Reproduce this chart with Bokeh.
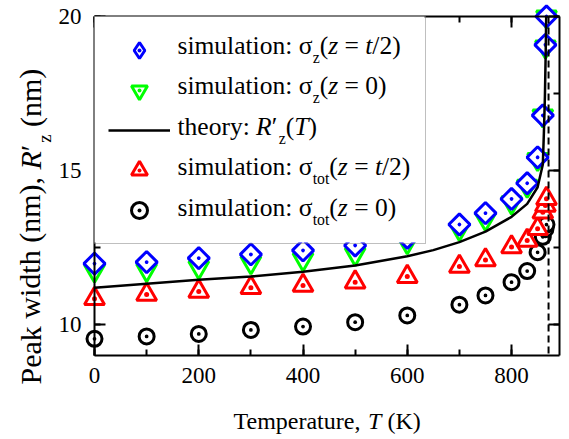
import math
from bokeh.plotting import figure
from bokeh.models import (Range1d, LinearAxis, SingleIntervalTicker, Span,
                          Legend, LegendItem, ColumnDataSource, PrintfTickFormatter)
from bokeh.core.properties import value
from bokeh.embed import file_html
from bokeh.resources import INLINE

# ---------------- data ----------------
T_sim = [0, 100, 200, 300, 400, 500, 600, 700, 750, 800, 830, 850, 860, 865, 867]
sigma_z_half = [11.98, 12.03, 12.16, 12.28, 12.41, 12.57, 12.82, 13.25, 13.62, 14.08,
                14.59, 15.43, 16.79, 19.08, 20.00]
sigma_z_zero = [11.75, 11.77, 11.86, 12.02, 12.12, 12.29, 12.67, 13.10, 13.42, 13.96,
                14.50, 15.37, 16.78, 19.02, 19.99]
sigma_tot_half = [10.84, 10.98, 11.08, 11.20, 11.27, 11.38, 11.56, 11.89, 12.10, 12.52,
                  12.73, 13.11, 13.65, 13.87, 14.09]
sigma_tot_zero = [9.54, 9.62, 9.70, 9.83, 9.94, 10.08, 10.30, 10.65, 10.95, 11.38,
                  11.74, 12.35, 12.85, 13.10, 13.25]
T_theory = [0, 100, 200, 300, 400, 500, 600, 650, 700, 750, 800, 830, 850, 860, 862,
            864, 865.5, 866.5]
R_theory = [11.20, 11.33, 11.46, 11.56, 11.72, 11.92, 12.22, 12.42, 12.68, 13.02, 13.50,
            13.92, 14.46, 15.20, 16.20, 17.40, 18.80, 20.00]
T_c = 871
x_tick_interval = 200
y_tick_interval = 5

# ---------------- layout ----------------
W, H = 569, 439
FL, FR, FT, FB = 94, 559, 16, 355
X0, X1 = 0, 892
Y0, Y1 = 9, 20
FONT = "Liberation Serif"
BLUE, GREEN, RED = "#0000ff", "#00ff00", "#ff0000"
LEG_RIGHT, LEG_BOTTOM = 424, 242   # legend box edges (px)


def px2x(px):
    return X0 + (px - FL) * (X1 - X0) / (FR - FL)


def py2y(py):
    return Y0 + (FB - py) * (Y1 - Y0) / (FB - FT)


p = figure(width=W, height=H, x_range=Range1d(X0, X1), y_range=Range1d(Y0, Y1),
           output_backend="svg", toolbar_location=None,
           x_axis_type=None, y_axis_type=None,
           min_border_left=FL, min_border_right=W - FR,
           min_border_top=FT, min_border_bottom=H - FB)
p.outline_line_color = None
p.background_fill_color = "white"
p.border_fill_color = "white"


def make_axis(interval, labels):
    ax = LinearAxis(ticker=SingleIntervalTicker(interval=interval, num_minor_ticks=2),
                    axis_line_width=2, axis_line_color="black",
                    major_tick_line_width=2, minor_tick_line_width=2,
                    major_tick_in=11, major_tick_out=0,
                    minor_tick_in=6, minor_tick_out=0,
                    major_label_text_font=FONT, major_label_text_color="black",
                    major_label_text_font_size="23px")
    if not labels:
        ax.formatter = PrintfTickFormatter(format="")
        ax.major_label_text_color = None
        ax.major_label_standoff = 0
    return ax


xb = make_axis(x_tick_interval, True)
xb.major_label_standoff = 12
yl = make_axis(y_tick_interval, True)
yl.major_label_standoff = 13
p.add_layout(xb, "below")
p.add_layout(yl, "left")
p.add_layout(make_axis(x_tick_interval, False), "above")
p.add_layout(make_axis(y_tick_interval, False), "right")

src = ColumnDataSource(dict(T=T_sim, bz=sigma_z_half, gz=sigma_z_zero,
                            rt=sigma_tot_half, kt=sigma_tot_zero))
mk = dict(line_width=3, fill_color="white", level="guide")

r_black = p.scatter("T", "kt", source=src, marker="circle_dot", size=15,
                    line_color="black", **mk)
r_red = p.scatter("T", "rt", source=src, marker="triangle_dot", size=20,
                  line_color=RED, **mk)
r_green = p.scatter("T", "gz", source=src, marker="inverted_triangle", size=20,
                    line_color=GREEN, **mk)
r_green_dot = p.scatter("T", "gz", source=src, marker="dot", size=18,
                        line_color=GREEN, fill_color=GREEN, line_width=1, level="guide")
r_blue = p.scatter("T", "bz", source=src, marker="square_dot", size=15, angle=math.pi / 4,
                   line_color=BLUE, **mk)
r_theory = p.line(T_theory, R_theory, line_color="black", line_width=2.5, level="guide")
p.add_layout(Span(location=T_c, dimension="height", line_color="black", line_width=2,
                  line_dash="7 4", level="guide"))

# white backdrop of the legend box (covers data points behind the legend)
p.quad(left=[px2x(FL)], right=[px2x(LEG_RIGHT)], top=[py2y(FT)], bottom=[py2y(LEG_BOTTOM)],
       fill_color="white", line_color=None, level="overlay")

# legend key for the diamonds (Bokeh draws legend keys unrotated); no visible point
key_blue = p.scatter(x=[math.nan], y=[math.nan], marker="diamond_dot", size=10,
                     line_color=BLUE, line_width=3, fill_color="white")

legend = Legend(items=[LegendItem(label=" ", renderers=[key_blue]),
                       LegendItem(label=" ", renderers=[r_green, r_green_dot]),
                       LegendItem(label=" ", renderers=[r_theory]),
                       LegendItem(label=" ", renderers=[r_red]),
                       LegendItem(label=" ", renderers=[r_black])],
                location="top_left", margin=0, padding=13, spacing=0,
                glyph_width=62, glyph_height=40, label_width=233, label_height=40,
                label_standoff=9, border_line_color="#808080", border_line_width=1,
                background_fill_alpha=0.0, label_text_color=None)
p.add_layout(legend)

# ---------------- rich text (text glyph) ----------------
W_REG = {' ': 250, '(': 333, ')': 333, ',': 250, '/': 278, ':': 278, '=': 564,
         '0': 500, '2': 500, 'K': 722, 'P': 556, 'R': 667, 'T': 611,
         'a': 444, 'd': 500, 'e': 444, 'h': 500, 'i': 278, 'k': 500, 'l': 278,
         'm': 778, 'n': 500, 'o': 500, 'p': 500, 'r': 333, 's': 389, 't': 278,
         'u': 500, 'w': 722, 'y': 500, 'z': 444, 'σ': 550, '′': 280}
W_IT = {'R': 611, 'T': 556, 't': 278, 'z': 389, 'σ': 550}
BASE_FIX = 0.45   # baseline correction (in em) for Bokeh's text placement

txt = dict(x=[], y=[], text=[], size=[], style=[], angle=[])


def twidth(s, italic, size):
    tab = W_IT if italic else W_REG
    return sum(tab.get(c, W_REG.get(c, 500)) for c in s) / 1000.0 * size


def rich(pieces, x_px, y_px, size, rotated=False):
    adv = 0.0
    for text, kind in pieces:
        sub = kind == "s"
        italic = kind == "i"
        fs = size * 0.62 if sub else size
        shift = size * 0.30 if sub else 0.0
        shift -= BASE_FIX * fs
        stripped = text.strip(" ")
        lead = twidth(text[:len(text) - len(text.lstrip(" "))], False, fs)
        a = adv + lead
        if rotated:
            lx, ly = x_px + shift, y_px - a
        else:
            lx, ly = x_px + a, y_px + shift
        if stripped:
            txt["x"].append(px2x(lx))
            txt["y"].append(py2y(ly))
            txt["text"].append(stripped)
            txt["size"].append(f"{fs:.1f}px")
            txt["style"].append("italic" if italic else "normal")
            txt["angle"].append(math.pi / 2 if rotated else 0.0)
        adv += twidth(text, italic, fs)


LEG_SIZE = 25.5
legend_texts = [
    [("simulation: ", "r"), ("σ", "r"), ("z", "s"), ("(", "r"), ("z", "i"),
     (" = ", "r"), ("t", "i"), ("/2)", "r")],
    [("simulation: ", "r"), ("σ", "r"), ("z", "s"), ("(", "r"), ("z", "i"),
     (" = 0)", "r")],
    [("theory: ", "r"), ("R", "i"), ("′", "r"), ("z", "s"), ("(", "r"), ("T", "i"),
     (")", "r")],
    [("simulation: ", "r"), ("σ", "r"), ("tot", "s"), ("(", "r"), ("z", "i"),
     (" = ", "r"), ("t", "i"), ("/2)", "r")],
    [("simulation: ", "r"), ("σ", "r"), ("tot", "s"), ("(", "r"), ("z", "i"),
     (" = 0)", "r")],
]
for i, pieces in enumerate(legend_texts):
    rich(pieces, 177, 56 + 40.5 * i, LEG_SIZE)

rich([("Temperature, ", "r"), ("T", "i"), (" (K)", "r")], 233, 431, 24)
rich([("Peak width (nm), ", "r"), ("R", "i"), ("′", "r"), ("z", "s"), (" (nm)", "r")],
     43, 384, 30, rotated=True)

p.text(x="x", y="y", text="text", source=ColumnDataSource(txt),
       text_font=value(FONT), text_font_size="size", text_font_style="style",
       angle="angle", text_align=value("left"), text_baseline=value("alphabetic"),
       text_color=value("black"), level="overlay")

open("out.html", "w").write(file_html(p, INLINE))
